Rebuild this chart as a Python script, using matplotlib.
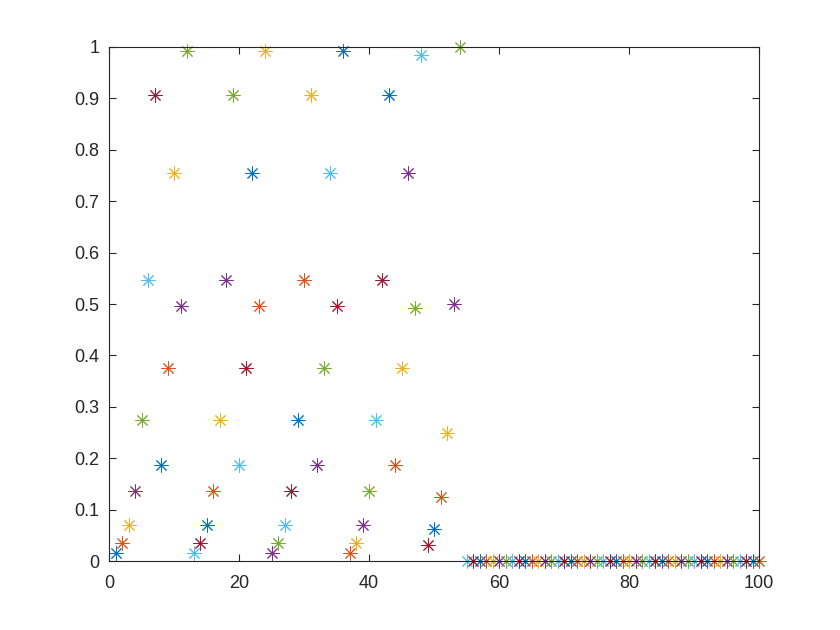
import numpy as np
import matplotlib.pyplot as plt

plt.rcParams['font.family'] = ['Liberation Sans', 'DejaVu Sans']

# 数据：x = 1..100，每个点单独一条序列（颜色循环）
x = np.arange(1, 101)
y_head = [0.0156, 0.0352, 0.0703, 0.1367, 0.2734, 0.5469, 0.9063, 0.1875, 0.3750, 0.7539, 0.4961, 0.9922,
          0.0156, 0.0352, 0.0703, 0.1367, 0.2734, 0.5469, 0.9063, 0.1875, 0.3750, 0.7539, 0.4961, 0.9922,
          0.0156, 0.0352, 0.0703, 0.1367, 0.2734, 0.5469, 0.9063, 0.1875, 0.3750, 0.7539, 0.4961, 0.9922,
          0.0156, 0.0352, 0.0703, 0.1367, 0.2734, 0.5469, 0.9063, 0.1875, 0.3750, 0.7539, 0.4922, 0.9844,
          0.0313, 0.0625, 0.1250, 0.2500, 0.5000, 1.0000]
y = np.array(y_head + [0.0] * (100 - len(y_head)))

matlab_colors = ['#0072BD', '#D95319', '#EDB120', '#7E2F8E', '#77AC30', '#4DBEEE', '#A2142F']

fig = plt.figure(figsize=(8.4, 6.3), dpi=100)
ax = fig.add_axes([0.1298, 0.1095, 0.7738, 0.8159])

for i in range(len(x)):
    ax.plot(x[i], y[i], linestyle='none', marker=(8, 2, 0), markersize=10,
            markeredgewidth=0.7, color=matlab_colors[i % 7], clip_on=False)

ax.set_xlim(0, 100)
ax.set_ylim(0, 1)
ax.set_xticks(np.arange(0, 101, 20))
ax.set_yticks(np.arange(0, 1.01, 0.1))
ax.set_yticklabels(['0', '0.1', '0.2', '0.3', '0.4', '0.5', '0.6', '0.7', '0.8', '0.9', '1'])

for s in ax.spines.values():
    s.set_color('#262626')
    s.set_linewidth(0.8)
ax.tick_params(direction='in', top=True, right=True, length=5, width=0.8,
               colors='#262626', labelsize=13)
ax.tick_params(axis='x', pad=10)
ax.tick_params(axis='y', pad=7)

plt.savefig('out.png')
